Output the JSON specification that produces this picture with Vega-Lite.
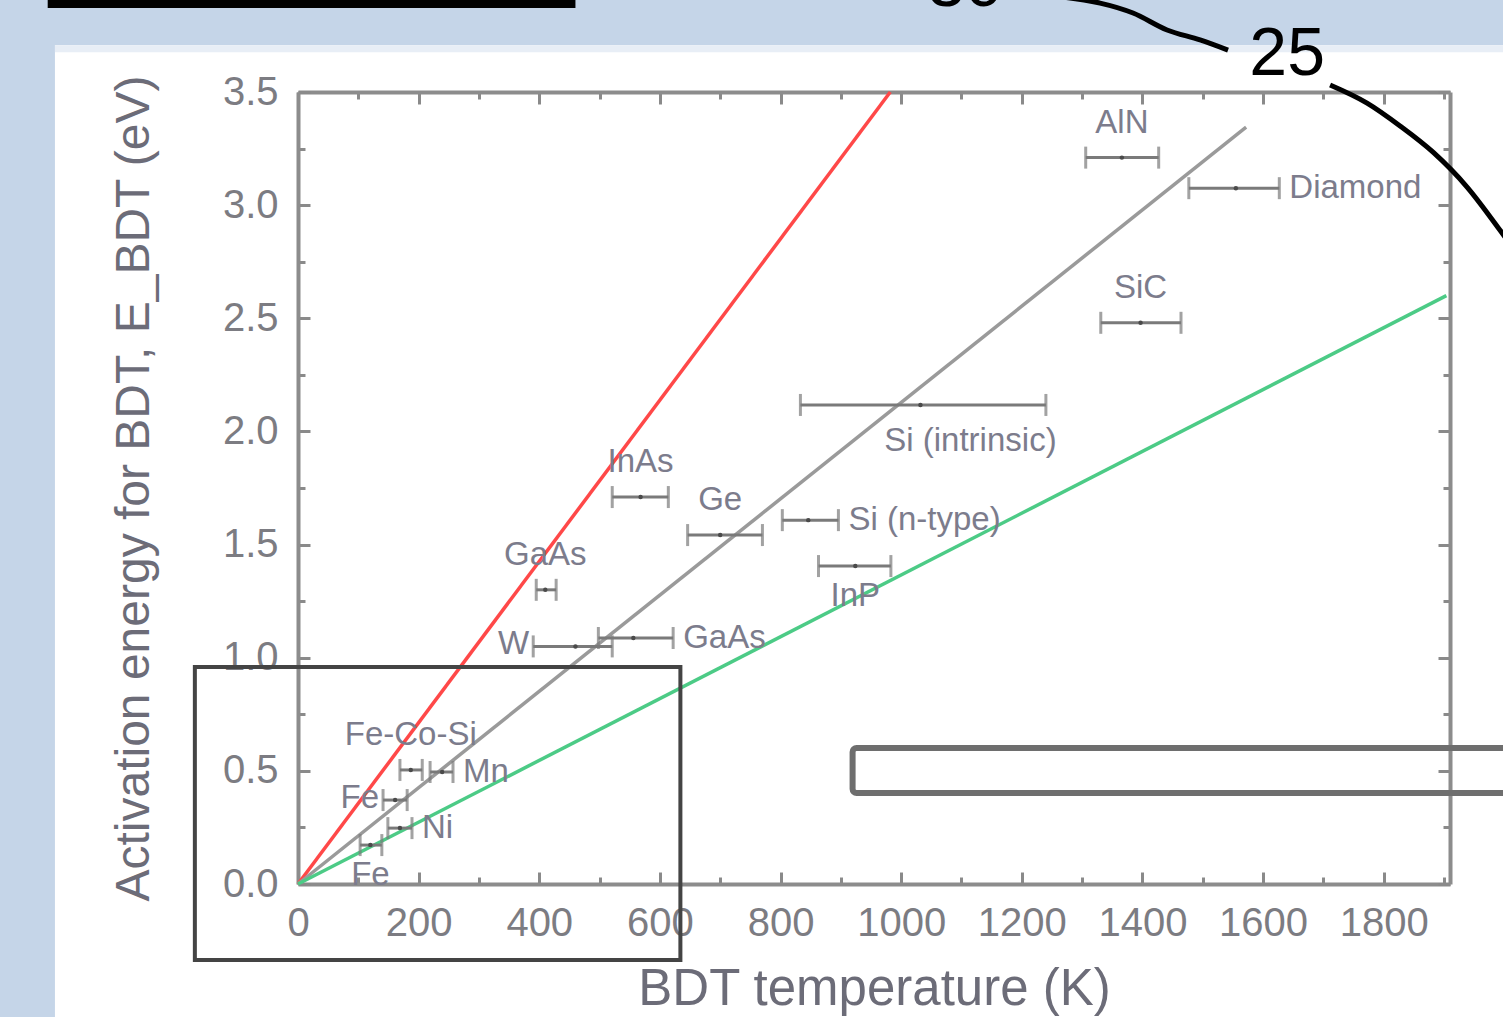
{
  "$schema": "https://vega.github.io/schema/vega-lite/v6.json",
  "width": 1152,
  "height": 792,
  "autosize": {"type": "none"},
  "padding": {"left": 298, "top": 92, "right": 53, "bottom": 133},
  "background": "white",
  "config": {"view": {"stroke": null}, "font": "Liberation Sans"},
  "datasets": {
    "pts": [
      {"id": 1, "name": "AlN", "K": 1366, "lo": 1306, "hi": 1427, "eV": 3.21},
      {"id": 2, "name": "Diamond", "K": 1555, "lo": 1477, "hi": 1627, "eV": 3.075},
      {"id": 3, "name": "SiC", "K": 1397, "lo": 1331, "hi": 1464, "eV": 2.48},
      {"id": 4, "name": "Si (intrinsic)", "K": 1032, "lo": 833, "hi": 1240, "eV": 2.117},
      {"id": 5, "name": "InAs", "K": 568, "lo": 521, "hi": 614, "eV": 1.71},
      {"id": 6, "name": "Ge", "K": 700, "lo": 646, "hi": 770, "eV": 1.542},
      {"id": 7, "name": "Si (n-type)", "K": 846, "lo": 803, "hi": 896, "eV": 1.608},
      {"id": 8, "name": "InP", "K": 924, "lo": 863, "hi": 983, "eV": 1.405},
      {"id": 9, "name": "GaAs", "K": 410, "lo": 395, "hi": 428, "eV": 1.3},
      {"id": 10, "name": "W", "K": 460, "lo": 390, "hi": 521, "eV": 1.05},
      {"id": 11, "name": "GaAs", "K": 556, "lo": 498, "hi": 622, "eV": 1.087},
      {"id": 12, "name": "Fe-Co-Si", "K": 187, "lo": 169, "hi": 206, "eV": 0.504},
      {"id": 13, "name": "Mn", "K": 239, "lo": 219, "hi": 257, "eV": 0.495},
      {"id": 14, "name": "Fe", "K": 161, "lo": 141, "hi": 181, "eV": 0.371},
      {"id": 15, "name": "Ni", "K": 169, "lo": 149, "hi": 189, "eV": 0.247},
      {"id": 16, "name": "Fe", "K": 120, "lo": 103, "hi": 139, "eV": 0.172}
    ],
    "lines": [
      {"s": "red", "K": 0, "eV": 0}, {"s": "red", "K": 982, "eV": 3.5},
      {"s": "gray", "K": 0, "eV": 0}, {"s": "gray", "K": 1572, "eV": 3.345},
      {"s": "green", "K": 0, "eV": 0}, {"s": "green", "K": 1904, "eV": 2.6}
    ],
    "curve": [
      {"seg": 1, "K": 1197.2, "eV": 3.933}, {"seg": 1, "K": 1329.8, "eV": 3.893}, {"seg": 1, "K": 1384.5, "eV": 3.849},
      {"seg": 1, "K": 1440.9, "eV": 3.774}, {"seg": 1, "K": 1495.6, "eV": 3.73}, {"seg": 1, "K": 1542.0, "eV": 3.685},
      {"seg": 2, "K": 1711.2, "eV": 3.531}, {"seg": 2, "K": 1772.5, "eV": 3.451}, {"seg": 2, "K": 1827.2, "eV": 3.35},
      {"seg": 2, "K": 1881.9, "eV": 3.234}, {"seg": 2, "K": 1938.3, "eV": 3.08}, {"seg": 2, "K": 1993.0, "eV": 2.889},
      {"seg": 2, "K": 2026.2, "eV": 2.766}
    ]
  },
  "resolve": {"axis": {"x": "independent", "y": "independent"}},
  "layer": [
    {
      "data": {"values": [{}]},
      "mark": {"type": "rect", "color": "#c5d5e8", "clip": false},
      "encoding": {
        "x": {"datum": -520, "type": "quantitative", "scale": {"domain": [0, 1910], "nice": false}, "axis": null},
        "x2": {"datum": -403},
        "y": {"datum": -0.8, "type": "quantitative", "scale": {"domain": [0, 3.5], "nice": false}, "axis": null},
        "y2": {"datum": 4.2}
      }
    },
    {
      "data": {"values": [{}]},
      "mark": {"type": "rect", "color": "#c5d5e8", "clip": false},
      "encoding": {
        "x": {"datum": -520, "type": "quantitative", "scale": {"domain": [0, 1910], "nice": false}, "axis": null},
        "x2": {"datum": 2100},
        "y": {"datum": 3.707, "type": "quantitative", "scale": {"domain": [0, 3.5], "nice": false}, "axis": null},
        "y2": {"datum": 4.2}
      }
    },
    {
      "data": {"values": [{}]},
      "mark": {"type": "rect", "color": "#e8eef6", "clip": false},
      "encoding": {
        "x": {"datum": -403, "type": "quantitative", "scale": {"domain": [0, 1910], "nice": false}, "axis": null},
        "x2": {"datum": 2100},
        "y": {"datum": 3.676, "type": "quantitative", "scale": {"domain": [0, 3.5], "nice": false}, "axis": null},
        "y2": {"datum": 3.707}
      }
    },
    {
      "data": {"values": [{}]},
      "mark": {"type": "rect", "color": "#000000", "clip": false},
      "encoding": {
        "x": {"datum": -415, "type": "quantitative", "scale": {"domain": [0, 1910], "nice": false}, "axis": null},
        "x2": {"datum": 460},
        "y": {"datum": 3.871, "type": "quantitative", "scale": {"domain": [0, 3.5], "nice": false}, "axis": null},
        "y2": {"datum": 4.2}
      }
    },
    {
      "data": {"name": "lines"},
      "mark": {"type": "line", "strokeWidth": 3.5, "clip": false},
      "encoding": {
        "x": {
          "field": "K", "type": "quantitative", "scale": {"domain": [0, 1910], "nice": false},
          "axis": {
            "orient": "bottom", "grid": false,
            "values": [0, 100, 200, 300, 400, 500, 600, 700, 800, 900, 1000, 1100, 1200, 1300, 1400, 1500, 1600, 1700, 1800, 1900],
            "labelExpr": "datum.value % 200 === 0 ? datum.label : ''",
            "format": "d",
            "tickSize": {"condition": {"test": "datum.value % 200 === 0", "value": -12}, "value": -7},
            "tickColor": "#8a8a8a", "tickWidth": 3,
            "domainColor": "#8c8c8c", "domainWidth": 4,
            "labelFontSize": 40, "labelColor": "#7c7c82", "labelPadding": 31,
            "labelFlush": false, "labelOverlap": false,
            "title": "BDT temperature (K)", "titleFontSize": 51, "titleFontWeight": "normal",
            "titleColor": "#6c6c78", "titlePadding": 16
          }
        },
        "y": {
          "field": "eV", "type": "quantitative", "scale": {"domain": [0, 3.5], "nice": false},
          "axis": {
            "orient": "left", "grid": false,
            "values": [0, 0.25, 0.5, 0.75, 1, 1.25, 1.5, 1.75, 2, 2.25, 2.5, 2.75, 3, 3.25, 3.5],
            "labelExpr": "abs(datum.value * 2 - round(datum.value * 2)) < 0.001 ? format(datum.value, '.1f') : ''",
            "tickSize": {"condition": {"test": "abs(datum.value * 2 - round(datum.value * 2)) < 0.001", "value": -12}, "value": -7},
            "tickColor": "#8a8a8a", "tickWidth": 3,
            "domainColor": "#8c8c8c", "domainWidth": 4,
            "labelFontSize": 40, "labelColor": "#7c7c82", "labelPadding": 32,
            "labelFlush": false, "labelOverlap": false,
            "title": "Activation energy for BDT, E_BDT (eV)", "titleFontSize": 48, "titleFontWeight": "normal",
            "titleColor": "#6c6c78", "titlePadding": 64
          }
        },
        "color": {"field": "s", "type": "nominal", "legend": null,
          "scale": {"domain": ["red", "gray", "green"], "range": ["#ff4848", "#9a9a9a", "#4ccb86"]}}
      }
    },
    {
      "data": {"name": "pts"},
      "mark": {"type": "rule", "color": "#7a7a7a", "strokeWidth": 3},
      "encoding": {
        "x": {
          "field": "lo", "type": "quantitative", "scale": {"domain": [0, 1910], "nice": false},
          "axis": {
            "orient": "top", "grid": false, "labels": false, "title": null,
            "values": [0, 100, 200, 300, 400, 500, 600, 700, 800, 900, 1000, 1100, 1200, 1300, 1400, 1500, 1600, 1700, 1800, 1900],
            "tickSize": {"condition": {"test": "datum.value % 200 === 0", "value": -12}, "value": -7},
            "tickColor": "#8a8a8a", "tickWidth": 3,
            "domainColor": "#8c8c8c", "domainWidth": 4
          }
        },
        "x2": {"field": "hi"},
        "y": {
          "field": "eV", "type": "quantitative", "scale": {"domain": [0, 3.5], "nice": false},
          "axis": {
            "orient": "right", "grid": false, "labels": false, "title": null,
            "values": [0, 0.25, 0.5, 0.75, 1, 1.25, 1.5, 1.75, 2, 2.25, 2.5, 2.75, 3, 3.25, 3.5],
            "tickSize": {"condition": {"test": "abs(datum.value * 2 - round(datum.value * 2)) < 0.001", "value": -12}, "value": -7},
            "tickColor": "#8a8a8a", "tickWidth": 3,
            "domainColor": "#8c8c8c", "domainWidth": 4
          }
        }
      }
    },
    {
      "data": {"name": "pts"},
      "mark": {"type": "tick", "orient": "vertical", "color": "#7a7a7a", "thickness": 3, "size": 22},
      "encoding": {
        "x": {"field": "lo", "type": "quantitative", "scale": {"domain": [0, 1910], "nice": false}, "axis": null},
        "y": {"field": "eV", "type": "quantitative", "scale": {"domain": [0, 3.5], "nice": false}, "axis": null}
      }
    },
    {
      "data": {"name": "pts"},
      "mark": {"type": "tick", "orient": "vertical", "color": "#7a7a7a", "thickness": 3, "size": 22},
      "encoding": {
        "x": {"field": "hi", "type": "quantitative", "scale": {"domain": [0, 1910], "nice": false}, "axis": null},
        "y": {"field": "eV", "type": "quantitative", "scale": {"domain": [0, 3.5], "nice": false}, "axis": null}
      }
    },
    {
      "data": {"name": "pts"},
      "mark": {"type": "point", "filled": true, "color": "#4a4a4a", "size": 20, "opacity": 1},
      "encoding": {
        "x": {"field": "K", "type": "quantitative", "scale": {"domain": [0, 1910], "nice": false}, "axis": null},
        "y": {"field": "eV", "type": "quantitative", "scale": {"domain": [0, 3.5], "nice": false}, "axis": null}
      }
    },
    {
      "data": {"name": "pts"},
      "transform": [{"filter": {"field": "id", "oneOf": [1, 3, 5, 6, 9, 12]}}],
      "mark": {"type": "text", "fontSize": 33, "color": "#7c7c8c", "align": "center", "baseline": "middle", "dy": -35},
      "encoding": {
        "x": {"field": "K", "type": "quantitative", "scale": {"domain": [0, 1910], "nice": false}, "axis": null},
        "y": {"field": "eV", "type": "quantitative", "scale": {"domain": [0, 3.5], "nice": false}, "axis": null},
        "text": {"field": "name"}
      }
    },
    {
      "data": {"name": "pts"},
      "transform": [{"filter": {"field": "id", "oneOf": [2, 7, 11, 13, 15]}}],
      "mark": {"type": "text", "fontSize": 33, "color": "#7c7c8c", "align": "left", "baseline": "middle", "dx": 10, "dy": 0},
      "encoding": {
        "x": {"field": "hi", "type": "quantitative", "scale": {"domain": [0, 1910], "nice": false}, "axis": null},
        "y": {"field": "eV", "type": "quantitative", "scale": {"domain": [0, 3.5], "nice": false}, "axis": null},
        "text": {"field": "name"}
      }
    },
    {
      "data": {"name": "pts"},
      "transform": [{"filter": {"field": "id", "oneOf": [8, 16]}}],
      "mark": {"type": "text", "fontSize": 33, "color": "#7c7c8c", "align": "center", "baseline": "middle", "dy": 30},
      "encoding": {
        "x": {"field": "K", "type": "quantitative", "scale": {"domain": [0, 1910], "nice": false}, "axis": null},
        "y": {"field": "eV", "type": "quantitative", "scale": {"domain": [0, 3.5], "nice": false}, "axis": null},
        "text": {"field": "name"}
      }
    },
    {
      "data": {"name": "pts"},
      "transform": [{"filter": {"field": "id", "oneOf": [4]}}],
      "mark": {"type": "text", "fontSize": 33, "color": "#7c7c8c", "align": "center", "baseline": "middle", "dx": 50, "dy": 36},
      "encoding": {
        "x": {"field": "K", "type": "quantitative", "scale": {"domain": [0, 1910], "nice": false}, "axis": null},
        "y": {"field": "eV", "type": "quantitative", "scale": {"domain": [0, 3.5], "nice": false}, "axis": null},
        "text": {"field": "name"}
      }
    },
    {
      "data": {"name": "pts"},
      "transform": [{"filter": {"field": "id", "oneOf": [10, 14]}}],
      "mark": {"type": "text", "fontSize": 33, "color": "#7c7c8c", "align": "right", "baseline": "middle", "dx": -4, "dy": -2},
      "encoding": {
        "x": {"field": "lo", "type": "quantitative", "scale": {"domain": [0, 1910], "nice": false}, "axis": null},
        "y": {"field": "eV", "type": "quantitative", "scale": {"domain": [0, 3.5], "nice": false}, "axis": null},
        "text": {"field": "name"}
      }
    },
    {
      "data": {"values": [{}]},
      "mark": {"type": "rect", "fill": null, "fillOpacity": 0, "stroke": "#444444", "strokeWidth": 4, "clip": false},
      "encoding": {
        "x": {"datum": -171, "type": "quantitative", "scale": {"domain": [0, 1910], "nice": false}, "axis": null},
        "x2": {"datum": 634},
        "y": {"datum": -0.336, "type": "quantitative", "scale": {"domain": [0, 3.5], "nice": false}, "axis": null},
        "y2": {"datum": 0.959}
      }
    },
    {
      "data": {"values": [{}]},
      "mark": {"type": "rect", "fill": null, "fillOpacity": 0, "stroke": "#6e6e6e", "strokeWidth": 6, "cornerRadius": 4, "clip": false},
      "encoding": {
        "x": {"datum": 919.5, "type": "quantitative", "scale": {"domain": [0, 1910], "nice": false}, "axis": null},
        "x2": {"datum": 2100},
        "y": {"datum": 0.402, "type": "quantitative", "scale": {"domain": [0, 3.5], "nice": false}, "axis": null},
        "y2": {"datum": 0.601}
      }
    },
    {
      "data": {"name": "curve"},
      "mark": {"type": "line", "color": "#000000", "strokeWidth": 5, "interpolate": "monotone", "clip": false},
      "encoding": {
        "x": {"field": "K", "type": "quantitative", "scale": {"domain": [0, 1910], "nice": false}, "axis": null},
        "y": {"field": "eV", "type": "quantitative", "scale": {"domain": [0, 3.5], "nice": false}, "axis": null},
        "detail": {"field": "seg", "type": "nominal"}
      }
    },
    {
      "data": {"values": [{"t": "25"}]},
      "mark": {"type": "text", "fontSize": 68, "color": "#000000", "align": "center", "baseline": "middle", "clip": false},
      "encoding": {
        "x": {"datum": 1640, "type": "quantitative", "scale": {"domain": [0, 1910], "nice": false}, "axis": null},
        "y": {"datum": 3.663, "type": "quantitative", "scale": {"domain": [0, 3.5], "nice": false}, "axis": null},
        "text": {"field": "t"}
      }
    },
    {
      "data": {"values": [{"t": "30"}]},
      "mark": {"type": "text", "fontSize": 68, "color": "#000000", "align": "center", "baseline": "middle", "clip": false},
      "encoding": {
        "x": {"datum": 1106, "type": "quantitative", "scale": {"domain": [0, 1910], "nice": false}, "axis": null},
        "y": {"datum": 3.968, "type": "quantitative", "scale": {"domain": [0, 3.5], "nice": false}, "axis": null},
        "text": {"field": "t"}
      }
    }
  ]
}
